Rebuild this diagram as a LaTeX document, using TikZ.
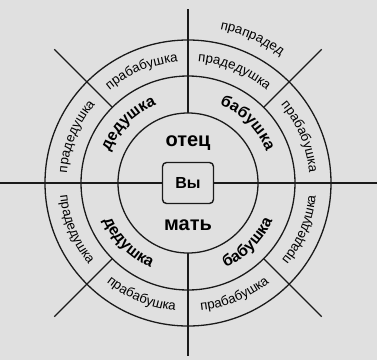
\documentclass[tikz,border=0pt]{standalone}
\usepackage{fontspec}
\setmainfont{Liberation Sans}
\usetikzlibrary{decorations.text}
\definecolor{bg}{HTML}{E0E0E0}
\definecolor{ink}{HTML}{1A1A1A}
\newcommand\fring{\fontsize{16}{16}\selectfont\bfseries}
\newcommand\fouter{\fontsize{13.3}{13.3}\selectfont}
\newcommand\uptext[4]{\path[decorate,decoration={text along path,text={|#3|#4},text align=center}] (#1+40:#2) arc[start angle=#1+40,end angle=#1-40,radius=#2];}
\newcommand\lowtext[4]{\path[decorate,decoration={text along path,text={|#3|#4},text align=center}] (#1-40:#2) arc[start angle=#1-40,end angle=#1+40,radius=#2];}
\tikzset{
  ring/.style={draw=ink,line width=1.3pt},
  divider/.style={draw=ink,line width=1.3pt},
  youbox/.style={draw=ink,line width=1.4pt,rounded corners=4pt,minimum width=51pt,minimum height=41pt,inner sep=0pt,font=\fontsize{16}{16}\selectfont\bfseries},
  parent/.style={font=\fontsize{20}{20}\selectfont\bfseries,inner sep=0pt}
}
\begin{document}
\begin{tikzpicture}[x=1pt,y=1pt]
\fill[bg] (-188,-177) rectangle (189,183);
\useasboundingbox (-188,-177) rectangle (189,183);
% circles
\draw[ring] (0,0) circle[radius=70];
\draw[ring] (0,0) circle[radius=107];
\draw[ring] (0,0) circle[radius=143];
% centre box and parents
\node[youbox] (you) at (0,0) {Вы};
\node[parent] (father) at (0,40) {отец};
\node[parent] (mother) at (0,-42) {мать};
% dividers
\coordinate (L) at (-188,0);
\coordinate (R) at (189,0);
\draw[divider] (L) -- (you.west);
\draw[divider] (you.east) -- (R);
\coordinate (vt1) at (90:70); \coordinate (vt2) at (90:174);
\coordinate (vb1) at (270:70); \coordinate (vb2) at (270:173);
\draw[divider] (vt1) -- (vt2);
\draw[divider] (vb1) -- (vb2);
\foreach \a in {45,135,225,315}{
  \coordinate (d1) at (\a:107); \coordinate (d2) at (\a:189);
  \draw[divider] (d1) -- (d2);
}
% ring 1
\uptext{135}{84.5}{\fring}{дедушка}
\uptext{45}{84.5}{\fring}{бабушка}
\lowtext{225}{92.5}{\fring}{дедушка}
\lowtext{315}{92.5}{\fring}{бабушка}
% ring 2
\uptext{112.5}{121.5}{\fouter}{прабабушка}
\uptext{157.5}{121.5}{\fouter}{прадедушка}
\uptext{67.5}{121.5}{\fouter}{прадедушка}
\uptext{22.5}{121.5}{\fouter}{прабабушка}
\lowtext{202.5}{128.5}{\fouter}{прадедушка}
\lowtext{247.5}{128.5}{\fouter}{прабабушка}
\lowtext{292.5}{128.5}{\fouter}{прабабушка}
\lowtext{337.5}{128.5}{\fouter}{прадедушка}
% outside
\uptext{66}{157}{\fouter}{прапрадед}
\end{tikzpicture}
\end{document}
